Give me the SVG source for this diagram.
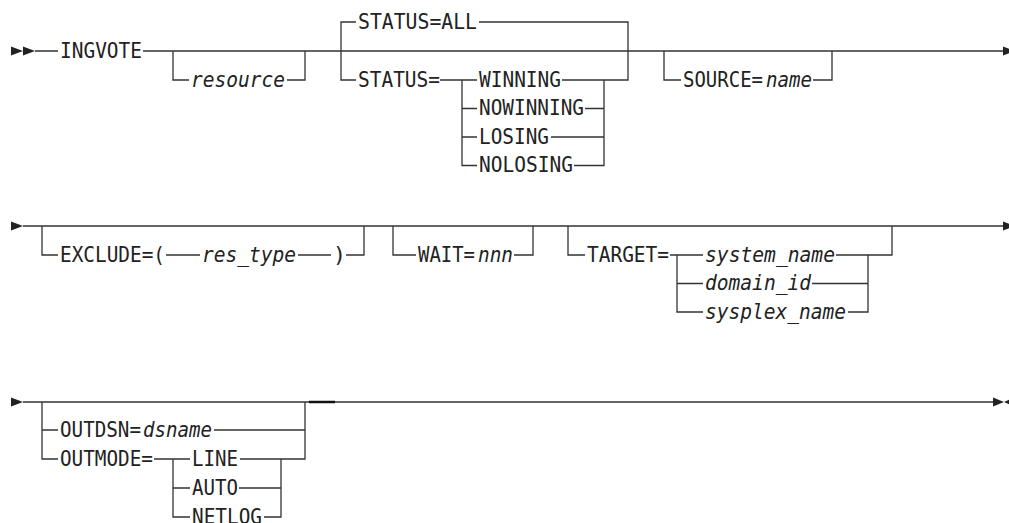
<svg xmlns="http://www.w3.org/2000/svg" width="1009" height="523" viewBox="0 0 1009 523">
<style>
.t{font-family:"DejaVu Sans Mono","Liberation Mono",monospace;font-size:21.5px;fill:#222}
.i{font-style:italic}
.ln{fill:none;stroke:#333;stroke-width:1.3}
.ar{fill:#222;stroke:none}
</style>
<rect width="1009" height="523" fill="#fff"/>
<g id="connectors">
<path class="ln" d="M35 51 H58 M143 51 H1003 M173 51 V80 H189 M287 80 H305 V51 M356 22 H341 V80 H356 M479 22 H628 V80 H562 M440 80 H477 M462 80 V165.5 H477 M462 108.5 H477 M462 137 H477 M604 80 V165.5 H574 M604 108.5 H585 M604 137 H551 M664 51 V80 H681 M813 80 H832 V51"/>
<path class="ln" d="M23 226 H1003 M42 226 V255 H58 M166 255 H200 M298 255 H331 M346 255 H364 V226 M393 226 V255 H416 M514 255 H533 V226 M568 226 V255 H585 M670 255 H703 M677 255 V312 H703 M677 283.5 H703 M836 255 H892 V226 M868 255 V312 H848 M868 283.5 H812"/>
<path class="ln" d="M23 402 H993 M42 402 V459 H58 M42 430 H58 M214 430 H305 M305 402 V459 H240 M154 459 H190 M173 459 V517 H190 M173 488 H190 M281 459 V517 H264 M281 488 H239"/>
<path d="M309 402 H335" fill="none" stroke="#111" stroke-width="2.5"/>
<path class="ar" d="M11 46.5 L23 51 L11 55.5Z M23 46.5 L35 51 L23 55.5Z M1003 46.5 L1015 51 L1003 55.5Z M11 221.5 L23 226 L11 230.5Z M1003 221.5 L1015 226 L1003 230.5Z M11 397.5 L23 402 L11 406.5Z M993 397.5 L1004 402 L993 406.5Z M1014 397.5 L1004 402 L1014 406.5Z"/>
</g>
<g id="n-ingvote"><text class="t" x="60" y="57.5" textLength="82" lengthAdjust="spacingAndGlyphs">INGVOTE</text></g>
<g id="n-resource"><text class="t i" x="191" y="86.5" textLength="94" lengthAdjust="spacingAndGlyphs">resource</text></g>
<g id="n-status-all"><text class="t" x="358" y="28.5" textLength="119" lengthAdjust="spacingAndGlyphs">STATUS=ALL</text></g>
<g id="n-status"><text class="t" x="358" y="86.5" textLength="82" lengthAdjust="spacingAndGlyphs">STATUS=</text></g>
<g id="n-winning"><text class="t" x="479" y="86.5" textLength="82" lengthAdjust="spacingAndGlyphs">WINNING</text></g>
<g id="n-nowinning"><text class="t" x="479" y="115" textLength="105" lengthAdjust="spacingAndGlyphs">NOWINNING</text></g>
<g id="n-losing"><text class="t" x="479" y="143.5" textLength="70" lengthAdjust="spacingAndGlyphs">LOSING</text></g>
<g id="n-nolosing"><text class="t" x="479" y="172" textLength="94" lengthAdjust="spacingAndGlyphs">NOLOSING</text></g>
<g id="n-source"><text class="t" x="683" y="86.5" textLength="80" lengthAdjust="spacingAndGlyphs">SOURCE=</text><text class="t i" x="766" y="86.5" textLength="46" lengthAdjust="spacingAndGlyphs">name</text></g>
<g id="n-exclude"><text class="t" x="60" y="261.5" textLength="105" lengthAdjust="spacingAndGlyphs">EXCLUDE=(</text></g>
<g id="n-res-type"><text class="t i" x="202" y="261.5" textLength="94" lengthAdjust="spacingAndGlyphs">res_type</text></g>
<g id="n-paren"><text class="t" x="333" y="261.5">)</text></g>
<g id="n-wait"><text class="t" x="418" y="261.5" textLength="57" lengthAdjust="spacingAndGlyphs">WAIT=</text><text class="t i" x="478" y="261.5" textLength="35" lengthAdjust="spacingAndGlyphs">nnn</text></g>
<g id="n-target"><text class="t" x="587" y="261.5" textLength="82" lengthAdjust="spacingAndGlyphs">TARGET=</text></g>
<g id="n-system-name"><text class="t i" x="705" y="261.5" textLength="130" lengthAdjust="spacingAndGlyphs">system_name</text></g>
<g id="n-domain-id"><text class="t i" x="705" y="290" textLength="106" lengthAdjust="spacingAndGlyphs">domain_id</text></g>
<g id="n-sysplex-name"><text class="t i" x="705" y="318.5" textLength="141" lengthAdjust="spacingAndGlyphs">sysplex_name</text></g>
<g id="n-outdsn"><text class="t" x="60" y="436.5" textLength="81" lengthAdjust="spacingAndGlyphs">OUTDSN=</text><text class="t i" x="143" y="436.5" textLength="69" lengthAdjust="spacingAndGlyphs">dsname</text></g>
<g id="n-outmode"><text class="t" x="60" y="465.5" textLength="93" lengthAdjust="spacingAndGlyphs">OUTMODE=</text></g>
<g id="n-line"><text class="t" x="192" y="465.5" textLength="46" lengthAdjust="spacingAndGlyphs">LINE</text></g>
<g id="n-auto"><text class="t" x="192" y="494.5" textLength="46" lengthAdjust="spacingAndGlyphs">AUTO</text></g>
<g id="n-netlog"><text class="t" x="192" y="523.5" textLength="70" lengthAdjust="spacingAndGlyphs">NETLOG</text></g>
</svg>
